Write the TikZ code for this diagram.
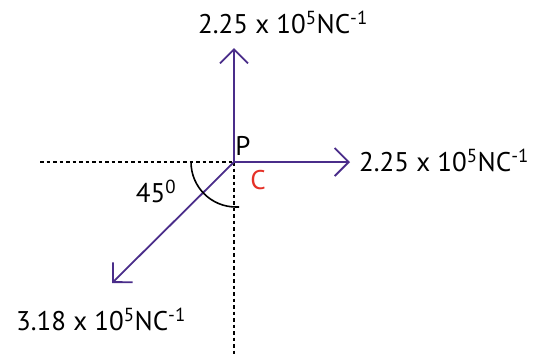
\documentclass[tikz,border=0pt]{standalone}
\usepackage{fontspec}
\setmainfont{PT Sans}
\usetikzlibrary{positioning,arrows.meta}
\definecolor{vecpurple}{HTML}{4A2D8A}
\definecolor{chred}{HTML}{E53027}

\begin{document}
\begin{tikzpicture}[x=1pt, y=-1pt,
        vec/.style={-{Straight Barb[length=14pt, width=28pt, line width=1.8pt]}, vecpurple, line width=1.8pt},
        ref/.style={dashed, dash pattern=on 3.5pt off 3pt, line width=2.6pt},
        lbl/.style={font=\fontsize{27}{31}\selectfont, inner sep=0pt}]
      \useasboundingbox (0,0) rectangle (546,354);
      \coordinate (P) at (234,162);
      \coordinate (up) at (234,48);
      \coordinate (rt) at (350,162);
      \coordinate (dl) at (112,283);
      \coordinate (lf) at (40,162);
      \coordinate (bt) at (234,354);
      % reference lines
      \draw[ref] (lf) -- (P);
      \draw[ref] (P) -- (bt);
      % field vectors
      \draw[vec] (P) -- (up);
      \draw[vec] (P) -- (rt);
      \draw[vec] (P) -- (dl);
      % angle
      \draw[line width=1.6pt] (191,162) arc[start angle=180, end angle=90, radius=45] -- ++(3,0);
      \node[lbl] (ang) at (156,191) {45\textsuperscript{0}};
      % labels
      \node[lbl] (p) at (243,146) {P};
      \node[lbl, text=chred] (c) at (258,180) {C};
      \node[lbl] (eup) at (283,22) {2.25 x 10\textsuperscript{5}NC\textsuperscript{-1}};
      \node[lbl, anchor=west] (ert) at (359,160) {2.25 x 10\textsuperscript{5}NC\textsuperscript{-1}};
      \node[lbl] (edl) at (101,319) {3.18 x 10\textsuperscript{5}NC\textsuperscript{-1}};
\end{tikzpicture}
\end{document}
